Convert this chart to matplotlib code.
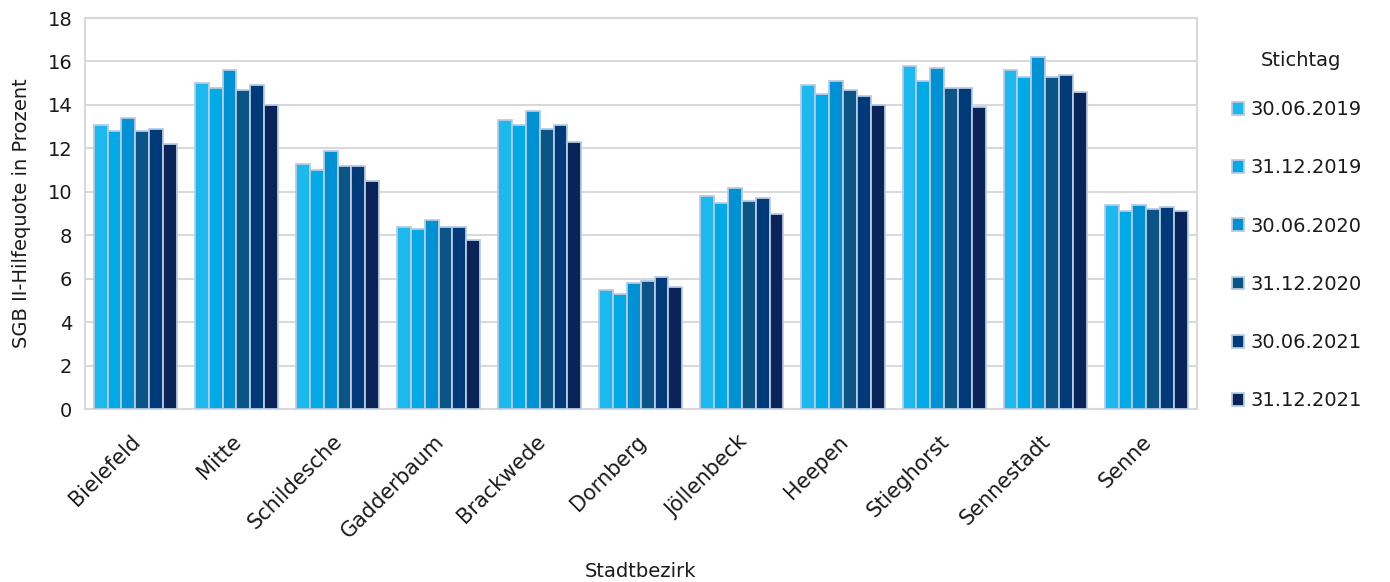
import numpy as np
import matplotlib.pyplot as plt
from matplotlib.transforms import ScaledTranslation

plt.rcParams['font.family'] = ['DejaVu Sans']

bezirke = ["Bielefeld", "Mitte", "Schildesche", "Gadderbaum", "Brackwede", "Dornberg",
           "Jöllenbeck", "Heepen", "Stieghorst", "Sennestadt", "Senne"]
stichtage = ["30.06.2019", "31.12.2019", "30.06.2020", "31.12.2020", "30.06.2021", "31.12.2021"]

q_2019_06 = [13.1, 15.0, 11.3, 8.4, 13.3, 5.5, 9.8, 14.9, 15.8, 15.6, 9.4]
q_2019_12 = [12.8, 14.8, 11.0, 8.3, 13.1, 5.3, 9.5, 14.5, 15.1, 15.3, 9.1]
q_2020_06 = [13.4, 15.6, 11.9, 8.7, 13.7, 5.8, 10.2, 15.1, 15.7, 16.2, 9.4]
q_2020_12 = [12.8, 14.7, 11.2, 8.4, 12.9, 5.9, 9.6, 14.7, 14.8, 15.3, 9.2]
q_2021_06 = [12.9, 14.9, 11.2, 8.4, 13.1, 6.1, 9.7, 14.4, 14.8, 15.4, 9.3]
q_2021_12 = [12.2, 14.0, 10.5, 7.8, 12.3, 5.6, 9.0, 14.0, 13.9, 14.6, 9.1]
reihen = [q_2019_06, q_2019_12, q_2020_06, q_2020_12, q_2021_06, q_2021_12]

farben = ["#1cb9ee", "#00aae6", "#0090d4", "#0a5585", "#003a78", "#0a2358"]
text_farbe = "#1a1a1a"

fig = plt.figure(figsize=(13.9, 5.82), dpi=100)
ax = fig.add_axes([0.061, 0.297, 0.8, 0.672])

x = np.arange(len(bezirke))
w = 0.137
for i, (werte, farbe, label) in enumerate(zip(reihen, farben, stichtage)):
    ax.bar(x + (i - 2.5) * w, werte, w, color=farbe, edgecolor="#b7cbe3",
           linewidth=1.3, label=label, zorder=3)

ax.set_xlim(-0.5, len(bezirke) - 0.5)
ax.set_ylim(0, 18)
ax.set_yticks(range(0, 19, 2))
ax.grid(axis="y", color="#d9d9d9", linewidth=1.5, zorder=0)
for s in ax.spines.values():
    s.set_color("#d9d9d9")
    s.set_linewidth(1.5)
ax.tick_params(length=0, labelsize=14, colors=text_farbe)
ax.tick_params(axis="y", pad=9)
ax.tick_params(axis="x", pad=16, labelsize=15)
ax.set_xticks(x)
ax.set_xticklabels(bezirke, rotation=45, ha="right", rotation_mode="anchor")
# Beschriftungen etwas nach links schieben
versatz = ScaledTranslation(-5 / 100, 0, fig.dpi_scale_trans)
for lbl in ax.get_xticklabels():
    lbl.set_transform(lbl.get_transform() + versatz)
ax.set_ylabel("SGB II-Hilfequote in Prozent", fontsize=14, color=text_farbe)
ax.yaxis.set_label_coords(-0.048, 0.5)
ax.set_xlabel("Stadtbezirk", fontsize=14, color=text_farbe)
ax.xaxis.set_label_coords(0.5, -0.39)

# Legendentitel separat, damit der Abstand zu den Einträgen stimmt
fig.text(0.936, 1 - 60 / 582, "Stichtag", fontsize=14, color=text_farbe,
         ha="center", va="center")
leg = fig.legend(loc="upper left", bbox_to_anchor=(0.886, 1 - 100 / 582),
                 frameon=False, fontsize=14, labelspacing=2.02,
                 handlelength=0.65, handleheight=0.65, handletextpad=0.3,
                 borderaxespad=0, borderpad=0)
for t in leg.get_texts():
    t.set_color(text_farbe)

fig.savefig("out.png", dpi=100)
